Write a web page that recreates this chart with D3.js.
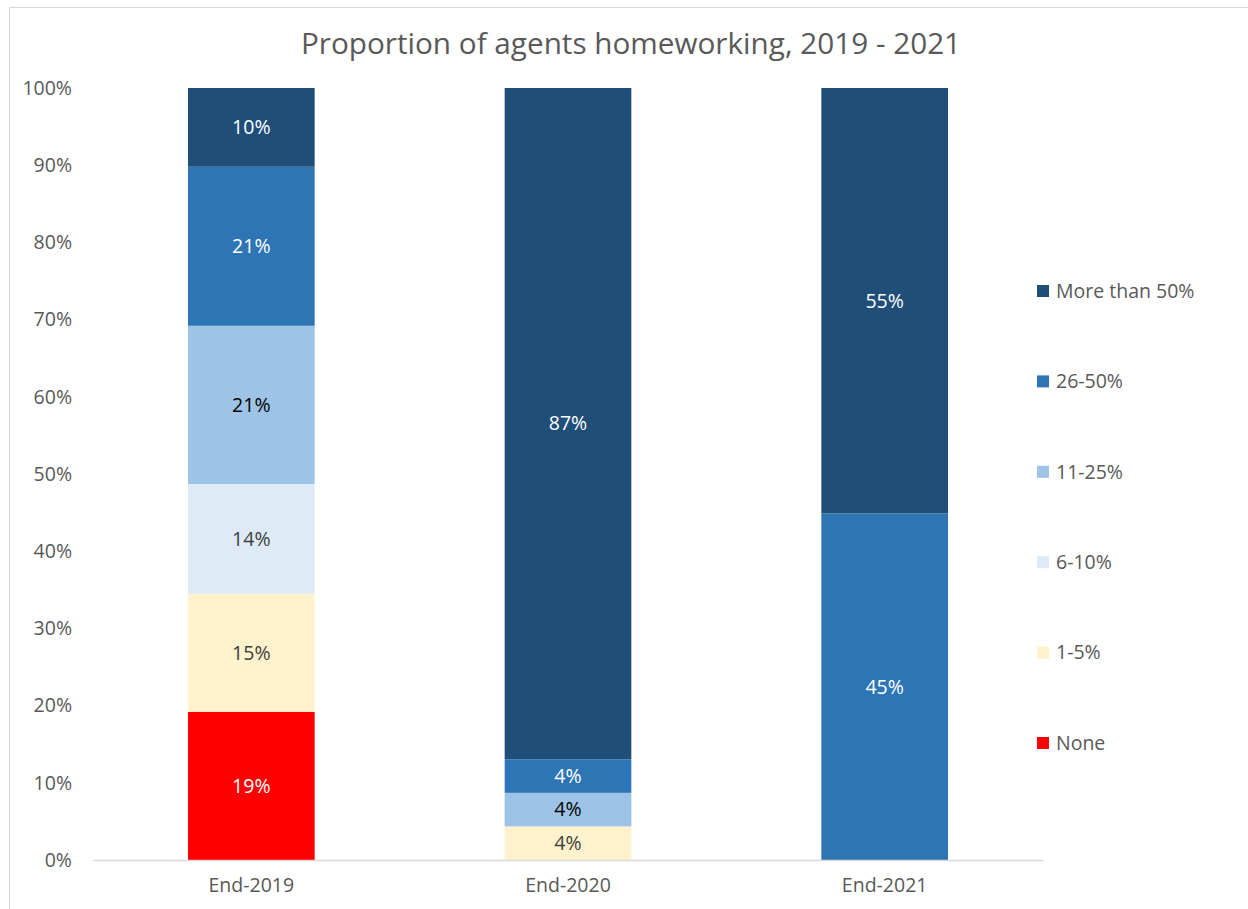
<!DOCTYPE html>
<html>
<head>
<meta charset="utf-8">
<script src="https://cdn.jsdelivr.net/npm/d3@7"></script>
<style>
  body { margin: 0; background: #fff; }
  text { font-family: "Open Sans", "Liberation Sans", sans-serif; }
</style>
</head>
<body>
<div id="chartBox"></div>
<script>
var categories = ["End-2019", "End-2020", "End-2021"];
var seriesNames = ["None", "1-5%", "6-10%", "11-25%", "26-50%", "More than 50%"];
var seriesColors = ["#FF0000", "#FFF2CC", "#DEEBF7", "#9DC3E6", "#2E75B6", "#1F4E79"];
var labelColors = ["#ffffff", "#404040", "#404040", "#000000", "#ffffff", "#ffffff"];
// share of agents, one array per series, in category order
var none = [19.2, 0, 0];
var oneToFive = [15.3, 4.35, 0];
var sixToTen = [14.2, 0, 0];
var elevenTo25 = [20.5, 4.35, 0];
var twentySixTo50 = [20.6, 4.35, 44.9];
var moreThan50 = [10.2, 86.95, 55.1];
var yTicks = [0, 10, 20, 30, 40, 50, 60, 70, 80, 90, 100];

var seriesValues = [none, oneToFive, sixToTen, elevenTo25, twentySixTo50, moreThan50];

var w = 1248, h = 909;
var margin = { top: 88, left: 93, right: 205, bottom: 49 };
var smallFont = "19.5px";

var svg = d3.select("#chartBox")
  .append("svg")
  .attr("width", w)
  .attr("height", h);

// chart frame
svg.append("rect")
  .attr("x", 9.5).attr("y", 7.5)
  .attr("width", w).attr("height", h)
  .style("fill", "none")
  .style("stroke", "#d9d9d9");

svg.append("text")
  .attr("x", 631)
  .attr("y", 54)
  .attr("text-anchor", "middle")
  .style("font-size", "29.7px")
  .style("fill", "#595959")
  .text("Proportion of agents homeworking, 2019 - 2021");

var x = d3.scaleBand()
  .domain(categories)
  .range([margin.left, w - margin.right])
  .paddingInner(0.6)
  .paddingOuter(0.3);

var y = d3.scaleLinear()
  .domain([0, 100])
  .range([h - margin.bottom, margin.top]);

var rows = categories.map(function(c, i) {
  var row = { cat: c };
  seriesNames.forEach(function(s, j) { row[s] = seriesValues[j][i]; });
  return row;
});

var stacked = d3.stack().keys(seriesNames)(rows);

var layers = svg.append("g")
  .selectAll("g")
  .data(stacked)
  .enter()
    .append("g")
    .style("fill", function(d, i) { return seriesColors[i]; });

layers.selectAll("rect")
  .data(function(d) { return d.filter(function(p) { return p[1] - p[0] > 0; }); })
  .enter()
    .append("rect")
    .attr("x", function(d) { return x(d.data.cat); })
    .attr("width", x.bandwidth())
    .attr("y", function(d) { return y(d[1]); })
    .attr("height", function(d) { return y(d[0]) - y(d[1]); });

// data labels
stacked.forEach(function(layer, i) {
  svg.append("g")
    .selectAll("text")
    .data(layer.filter(function(p) { return p[1] - p[0] > 0; }))
    .enter()
      .append("text")
      .attr("x", function(d) { return x(d.data.cat) + x.bandwidth() / 2; })
      .attr("y", function(d) { return (y(d[0]) + y(d[1])) / 2; })
      .attr("dy", "0.35em")
      .attr("text-anchor", "middle")
      .style("font-size", smallFont)
      .style("fill", labelColors[i])
      .text(function(d) { return Math.round(d[1] - d[0]) + "%"; });
});

// y axis labels
var yAxis = svg.append("g")
  .attr("transform", "translate(" + margin.left + ",0)")
  .call(d3.axisLeft(y).tickValues(yTicks).tickSize(0).tickPadding(21)
    .tickFormat(function(d) { return d + "%"; }));
yAxis.select(".domain").remove();
yAxis.selectAll("text")
  .style("font-size", smallFont)
  .style("font-family", "'Open Sans', sans-serif")
  .style("fill", "#595959");

// x axis
var xAxis = svg.append("g")
  .attr("transform", "translate(0," + y(0) + ")")
  .call(d3.axisBottom(x).tickSize(0).tickPadding(18));
xAxis.select(".domain")
  .style("stroke", "#d9d9d9")
  .style("stroke-width", 1.5);
xAxis.selectAll("text")
  .style("font-size", smallFont)
  .style("font-family", "'Open Sans', sans-serif")
  .style("fill", "#595959");

// legend, top series first
var legendNames = seriesNames.slice().reverse();
var legend = svg.append("g")
  .selectAll("g")
  .data(legendNames)
  .enter()
    .append("g")
    .attr("transform", function(d, i) { return "translate(1037," + (291 + i * 90.4) + ")"; });

legend.append("rect")
  .attr("x", 0).attr("y", -6)
  .attr("width", 12).attr("height", 12)
  .style("fill", function(d) { return seriesColors[seriesNames.indexOf(d)]; });

legend.append("text")
  .attr("x", 19)
  .attr("dy", "0.35em")
  .style("font-size", smallFont)
  .style("fill", "#595959")
  .text(function(d) { return d; });
</script>
</body>
</html>
